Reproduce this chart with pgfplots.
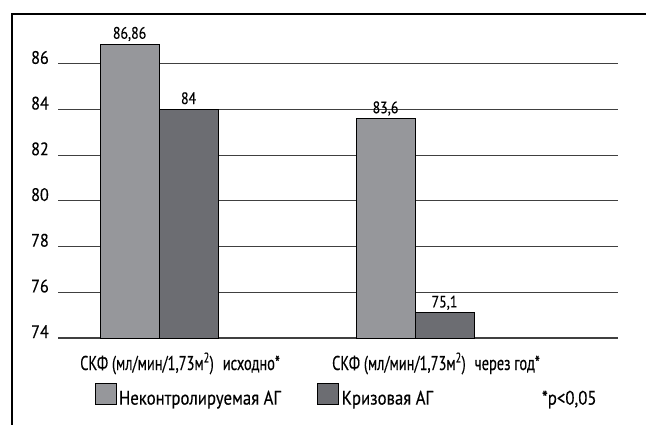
\documentclass[border=0pt]{standalone}
\usepackage{fontspec}
\setmainfont{PT Sans}[FakeStretch=0.86, FakeBold=0.35]
\newfontfamily\numfont{PT Sans}[FakeStretch=0.9, FakeBold=0.35]
\newfontfamily\valfont{PT Sans}[FakeStretch=0.84, FakeBold=0.35]
\newfontfamily\labfont{PT Sans}[FakeStretch=0.72, FakeBold=0.35]
\usepackage{pgfplots}
\pgfplotsset{compat=1.18}
\pgfkeys{/pgf/number format/assume math mode=true}
\definecolor{barlight}{RGB}{150,151,155}
\definecolor{bardark}{RGB}{108,109,114}
\pgfplotsset{
  sq legend/.style={legend image code/.code={%
    \draw[##1,line width=0.9pt] (0pt,0pt) rectangle (21pt,21pt);}},
}
\begin{document}
\begin{tikzpicture}[x=1pt,y=1pt]
\useasboundingbox (0,0) rectangle (646,424);
% outer frame (runs off the right and bottom edges)
\begin{scope}
  \clip (0,0) rectangle (646,424);
  \draw[line width=2.3pt] (12.2,-10) -- (12.2,410.1) -- (670,410.1);
\end{scope}
\begin{axis}[
  at={(58pt,86pt)}, anchor=south west,
  scale only axis, width=560pt, height=319.9pt,
  xmin=-0.395, xmax=1.793, ymin=74, ymax=88,
  clip=false,
  ybar=0pt, bar width=59pt,
  axis line style={draw=none},
  major tick length=0pt,
  ytick={74,76,...,86},
  ymajorgrids,
  major grid style={black!75, line width=1.1pt},
  yticklabel style={anchor=base east, inner sep=0pt, xshift=-9pt,
    font=\numfont\fontsize{18}{20}\selectfont},
  xtick={0,1},
  xticklabels={{СКФ (мл/мин/1,73м\textsuperscript{2})\hspace{9pt}исходно*},
               {СКФ (мл/мин/1,73м\textsuperscript{2})\hspace{9pt}через год*}},
  xticklabel style={anchor=base, inner sep=0pt, yshift=-32pt, xshift=21pt,
    font=\labfont\fontsize{20}{22}\selectfont},
  nodes near coords,
  nodes near coords style={anchor=base, inner sep=0pt, yshift=5.5pt,
    font=\valfont\fontsize{16.5}{19}\selectfont, text=black,
    /pgf/number format/use comma},
  legend columns=3,
  legend cell align=left,
  legend style={at={(0.066,-0.177)}, anchor=west, draw=none, fill=none,
    inner sep=0pt,
    nodes={inner sep=0pt, font=\fontsize{19.5}{22}\selectfont},
    cells={anchor=base west},
    /tikz/column 1/.style={column sep=2pt},
    /tikz/column 2/.style={column sep=36pt},
    /tikz/column 3/.style={column sep=3pt},
    /tikz/column 4/.style={column sep=109pt},
    /tikz/column 5/.style={column sep=0pt}},
]
\addplot[fill=barlight, draw=black, line width=0.9pt, sq legend]
  coordinates {(0,86.86) (1,83.6)};
\addlegendentry{Неконтролируемая АГ}
\addplot[fill=bardark, draw=black, line width=0.9pt, sq legend]
  coordinates {(0,84) (1,75.1)};
\addlegendentry{Кризовая АГ}
\addlegendimage{empty legend}
\addlegendentry{*p<0,05}
\end{axis}
\end{tikzpicture}
\end{document}
